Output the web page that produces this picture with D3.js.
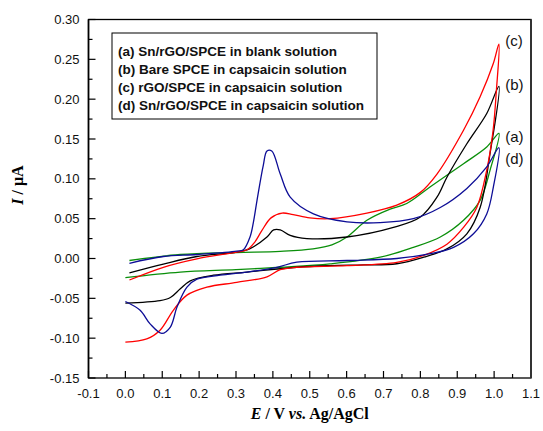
<!DOCTYPE html>
<html>
<head>
<meta charset="utf-8">
<script src="https://cdn.jsdelivr.net/npm/d3@7"></script>
<style>
  body { margin: 0; background: #fff; }
  svg { display: block; }
</style>
</head>
<body>
<script>
// (a) Sn/rGO/SPCE in blank solution - green
const curveA = [
    [0.011, -0.0025], [0.149, 0.005], [0.30, 0.0075], [0.42, 0.009], [0.509, 0.012],
    [0.56, 0.017], [0.601, 0.027], [0.655, 0.048], [0.718, 0.062], [0.763, 0.069],
    [0.827, 0.090], [0.917, 0.119], [0.980, 0.140], [1.013, 0.157],
    [0.989, 0.111], [0.962, 0.073], [0.917, 0.048], [0.854, 0.027], [0.781, 0.014],
    [0.691, 0.0016], [0.555, -0.0067], [0.42, -0.011], [0.30, -0.014],
    [0.149, -0.017], [0.0, -0.024]
];

// (b) Bare SPCE in capsaicin solution - black
const curveB = [
    [0.011, -0.018], [0.103, -0.007], [0.194, 0.0025], [0.302, 0.008], [0.338, 0.0125],
    [0.384, 0.027], [0.402, 0.036], [0.42, 0.036], [0.447, 0.029], [0.492, 0.025],
    [0.601, 0.027], [0.727, 0.039], [0.80, 0.052], [0.845, 0.077], [0.872, 0.102],
    [0.926, 0.144], [0.980, 0.182], [1.013, 0.216],
    [0.989, 0.132], [0.962, 0.064], [0.926, 0.031], [0.872, 0.012], [0.809, 0.0016],
    [0.736, -0.0066], [0.646, -0.008], [0.555, -0.009], [0.465, -0.011], [0.330, -0.017],
    [0.239, -0.021], [0.176, -0.028], [0.149, -0.038], [0.122, -0.049], [0.094, -0.053],
    [0.0, -0.056]
];

// (c) rGO/SPCE in capsaicin solution - red
const curveC = [
    [0.011, -0.027], [0.103, -0.011], [0.194, -0.0004], [0.302, 0.008], [0.330, 0.011],
    [0.350, 0.020], [0.370, 0.035], [0.395, 0.051], [0.425, 0.057], [0.455, 0.055],
    [0.50, 0.051], [0.555, 0.050], [0.655, 0.057], [0.736, 0.067], [0.80, 0.083],
    [0.845, 0.106], [0.917, 0.161], [0.962, 0.203], [0.998, 0.245], [1.013, 0.269],
    [1.006, 0.21], [0.997, 0.16], [0.980, 0.111], [0.953, 0.064], [0.917, 0.039],
    [0.872, 0.018], [0.809, 0.004], [0.736, -0.005], [0.601, -0.009], [0.465, -0.011],
    [0.42, -0.014], [0.384, -0.023], [0.302, -0.030], [0.221, -0.036], [0.167, -0.046],
    [0.130, -0.065], [0.094, -0.090], [0.058, -0.101], [0.0, -0.105]
];

// (d) Sn/rGO/SPCE in capsaicin solution - blue
const curveD = [
    [0.011, -0.006], [0.103, 0.0025], [0.194, 0.005], [0.302, 0.0092], [0.320, 0.011],
    [0.338, 0.027], [0.347, 0.045], [0.357, 0.073], [0.374, 0.117], [0.384, 0.135],
    [0.397, 0.135], [0.42, 0.106], [0.447, 0.077], [0.51, 0.056], [0.601, 0.046],
    [0.691, 0.045], [0.781, 0.050], [0.854, 0.064], [0.926, 0.088], [0.980, 0.115],
    [1.013, 0.139],
    [0.998, 0.090], [0.980, 0.056], [0.944, 0.031], [0.890, 0.014], [0.827, 0.006],
    [0.736, 0.000], [0.601, -0.0025], [0.465, -0.0046], [0.411, -0.011], [0.330, -0.017],
    [0.257, -0.021], [0.194, -0.026], [0.167, -0.036], [0.140, -0.061], [0.122, -0.086],
    [0.099, -0.094], [0.067, -0.082], [0.040, -0.065], [0.0, -0.054]
];

const xTicks = [-0.1, 0.0, 0.1, 0.2, 0.3, 0.4, 0.5, 0.6, 0.7, 0.8, 0.9, 1.0, 1.1];
const yTicks = [-0.15, -0.10, -0.05, 0.00, 0.05, 0.10, 0.15, 0.20, 0.25, 0.30];

const legendLabels = [
    '(a) Sn/rGO/SPCE in blank solution',
    '(b) Bare SPCE in capsaicin solution',
    '(c) rGO/SPCE in capsaicin solution',
    '(d) Sn/rGO/SPCE in capsaicin solution'
];

const series = [
    { data: curveA, color: '#0a8f0a', tag: '(a)', labelY: 0.152 },
    { data: curveB, color: '#000000', tag: '(b)', labelY: 0.218 },
    { data: curveC, color: '#ff0000', tag: '(c)', labelY: 0.273 },
    { data: curveD, color: '#0d0d96', tag: '(d)', labelY: 0.125 }
];

const W = 543, H = 431;
const margin = {top: 19.5, right: 12, bottom: 53, left: 88.5},
      width = W - margin.left - margin.right,
      height = H - margin.top - margin.bottom;

const svg = d3.select("body").append("svg")
    .attr("width", W)
    .attr("height", H)
  .append("g")
    .attr("transform", `translate(${margin.left},${margin.top})`);

const x = d3.scaleLinear().domain([-0.1, 1.1]).range([0, width]);
const y = d3.scaleLinear().domain([-0.15, 0.30]).range([height, 0]);

// minor + major ticks, pointing inward
const xMinor = d3.range(-0.1, 1.1001, 0.05);
const yMinor = d3.range(-0.15, 0.3001, 0.025);

svg.append("g")
    .selectAll("line.xm")
    .data(xMinor)
    .enter().append("line")
    .attr("x1", d => x(d)).attr("x2", d => x(d))
    .attr("y1", height).attr("y2", (d, i) => height - (i % 2 === 0 ? 7 : 4))
    .attr("stroke", "#000").attr("stroke-width", 1.2);

svg.append("g")
    .selectAll("line.ym")
    .data(yMinor)
    .enter().append("line")
    .attr("y1", d => y(d)).attr("y2", d => y(d))
    .attr("x1", 0).attr("x2", (d, i) => (i % 2 === 0 ? 7 : 4))
    .attr("stroke", "#000").attr("stroke-width", 1.2);

svg.append("g")
    .selectAll("text")
    .data(xTicks)
    .enter().append("text")
    .attr("x", d => x(d))
    .attr("y", height + 20)
    .attr("text-anchor", "middle")
    .style("font-family", "'Liberation Sans', Arial, sans-serif")
    .style("font-size", "13px")
    .attr("fill", "#111")
    .text(d => d.toFixed(1));

svg.append("g")
    .selectAll("text")
    .data(yTicks)
    .enter().append("text")
    .attr("x", -9)
    .attr("y", d => y(d) + 4.5)
    .attr("text-anchor", "end")
    .style("font-family", "'Liberation Sans', Arial, sans-serif")
    .style("font-size", "13px")
    .attr("fill", "#111")
    .text(d => d.toFixed(2));

// frame
svg.append("rect")
    .attr("width", width).attr("height", height)
    .attr("fill", "none").attr("stroke", "#000").attr("stroke-width", 1.3);
svg.append("line")
    .attr("x1", width).attr("x2", width).attr("y1", 0).attr("y2", height)
    .attr("stroke", "#333").attr("stroke-width", 2);
svg.append("line")
    .attr("x1", 0).attr("x2", 0).attr("y1", 0).attr("y2", height)
    .attr("stroke", "#000").attr("stroke-width", 1.6);

const line = d3.line()
    .x(d => x(d[0]))
    .y(d => y(d[1]))
    .curve(d3.curveCatmullRom.alpha(0.5));

svg.selectAll("path.cv")
    .data(series)
    .enter().append("path")
    .attr("class", "cv")
    .attr("d", d => line(d.data))
    .attr("fill", "none")
    .attr("stroke", d => d.color)
    .attr("stroke-width", 1.3);

// curve tags at the right
svg.selectAll("text.tag")
    .data(series)
    .enter().append("text")
    .attr("x", x(1.03))
    .attr("y", d => y(d.labelY) + 5)
    .style("font-family", "'Liberation Sans', Arial, sans-serif")
    .style("font-size", "15px")
    .attr("fill", "#111")
    .text(d => d.tag);

// legend box
const lg = svg.append("g").attr("transform", `translate(${112 - margin.left},${33 - margin.top})`);
lg.append("rect")
    .attr("width", 265).attr("height", 86)
    .attr("fill", "#fff").attr("stroke", "#000").attr("stroke-width", 1);
lg.selectAll("text")
    .data(legendLabels)
    .enter().append("text")
    .attr("x", 6)
    .attr("y", (d, i) => 23 + i * 18)
    .style("font-family", "'Liberation Sans', Arial, sans-serif")
    .style("font-size", "13.5px")
    .style("font-weight", "bold")
    .attr("fill", "#111")
    .text(d => d);

// axis titles
const xt = svg.append("text")
    .attr("x", width / 2)
    .attr("y", height + 41)
    .attr("text-anchor", "middle")
    .style("font-family", "'Liberation Serif', 'Times New Roman', serif")
    .style("font-size", "16px")
    .style("font-weight", "bold");
xt.append("tspan").style("font-style", "italic").text("E");
xt.append("tspan").text(" / V ");
xt.append("tspan").style("font-style", "italic").text("vs.");
xt.append("tspan").text(" Ag/AgCl");

const yt = svg.append("text")
    .attr("transform", `translate(${23 - margin.left},${185 - margin.top}) rotate(-90)`)
    .attr("text-anchor", "middle")
    .style("font-family", "'Liberation Serif', 'Times New Roman', serif")
    .style("font-size", "16px")
    .style("font-weight", "bold");
yt.append("tspan").style("font-style", "italic").text("I");
yt.append("tspan").text(" / μA");
</script>
</body>
</html>
